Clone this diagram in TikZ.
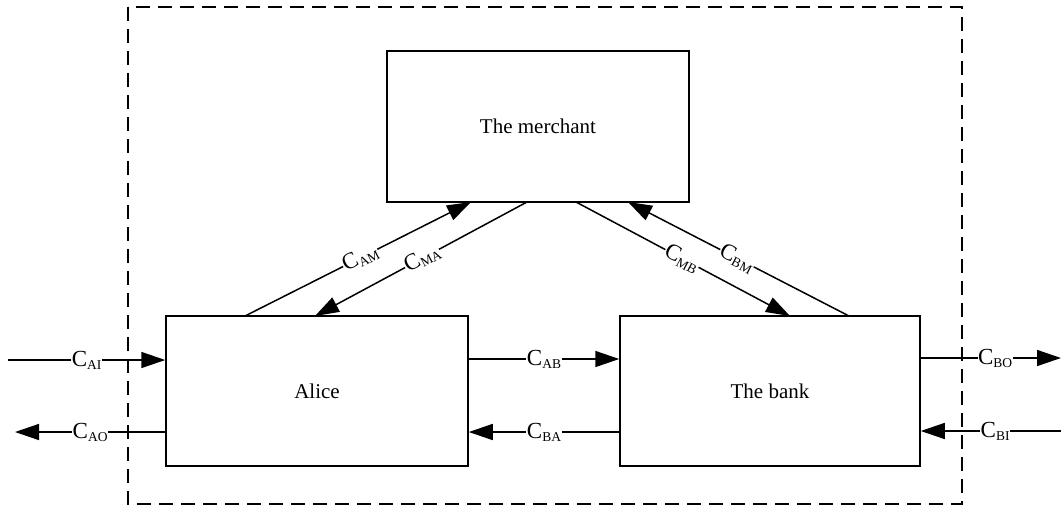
\documentclass[tikz,border=0pt]{standalone}
\usepackage{fontspec}
\setmainfont{Liberation Serif}
\usetikzlibrary{arrows.meta}
\newcommand{\chan}[1]{C\raisebox{-3pt}{\fontsize{13.5}{13.5}\selectfont #1}}
\begin{document}
\begin{tikzpicture}[x=1pt,y=-1pt,
  entity/.style={draw,line width=1.5pt,minimum height=150pt,inner sep=0pt,font=\fontsize{21}{25}\selectfont},
  conn/.style={line width=1.5pt,-{Triangle[length=24pt,width=16pt]}},
  lab/.style={fill=white,inner sep=0.5pt,font=\fontsize{23}{23}\selectfont}]
\useasboundingbox (0,0) rectangle (1061,507);
\draw[line width=1.5pt,dash pattern=on 14pt off 8pt] (128,7) rectangle (962,504);
\node[entity,minimum width=302pt,minimum height=151pt] (m) at (538,126.5) {The merchant};
\node[entity,minimum width=302pt] (a) at (317,391) {Alice};
\node[entity,minimum width=300pt] (b) at (770,391) {The bank};
% diagonals
\coordinate (aT1) at (245,316);
\coordinate (aT2) at (315,316);
\coordinate (mB1) at (471,202);
\coordinate (mB2) at (527,202);
\coordinate (mB3) at (576,202);
\coordinate (mB4) at (628,202);
\coordinate (bT1) at (790,316);
\coordinate (bT2) at (849,316);
\draw[conn] (aT1) -- node[lab,sloped,pos=0.51] {\chan{AM}} (mB1);
\draw[conn] (mB2) -- node[lab,sloped,pos=0.495] {\chan{MA}} (aT2);
\draw[conn] (mB3) -- node[lab,sloped,pos=0.495] {\chan{MB}} (bT1);
\draw[conn] (bT2) -- node[lab,sloped,pos=0.507] {\chan{BM}} (mB4);
% horizontals
\coordinate (inA) at (8,360);
\coordinate (outA) at (15,432);
\coordinate (outB) at (1061,358);
\coordinate (inB) at (1061,431);
\draw[conn] (inA) -- node[lab,pos=0.5] {\chan{AI}} (a.west |- inA);
\draw[conn] (a.west |- outA) -- node[lab,pos=0.5] {\chan{AO}} (outA);
\draw[conn] (a.east |- 0,359) -- node[lab,pos=0.5] {\chan{AB}} (b.west |- 0,359);
\draw[conn] (b.west |- 0,432) -- node[lab,pos=0.5] {\chan{BA}} (a.east |- 0,432);
\draw[conn] (b.east |- outB) -- node[lab,pos=0.53] {\chan{BO}} (outB);
\draw[conn] (inB) -- node[lab,pos=0.47] {\chan{BI}} (b.east |- inB);
\end{tikzpicture}
\end{document}
